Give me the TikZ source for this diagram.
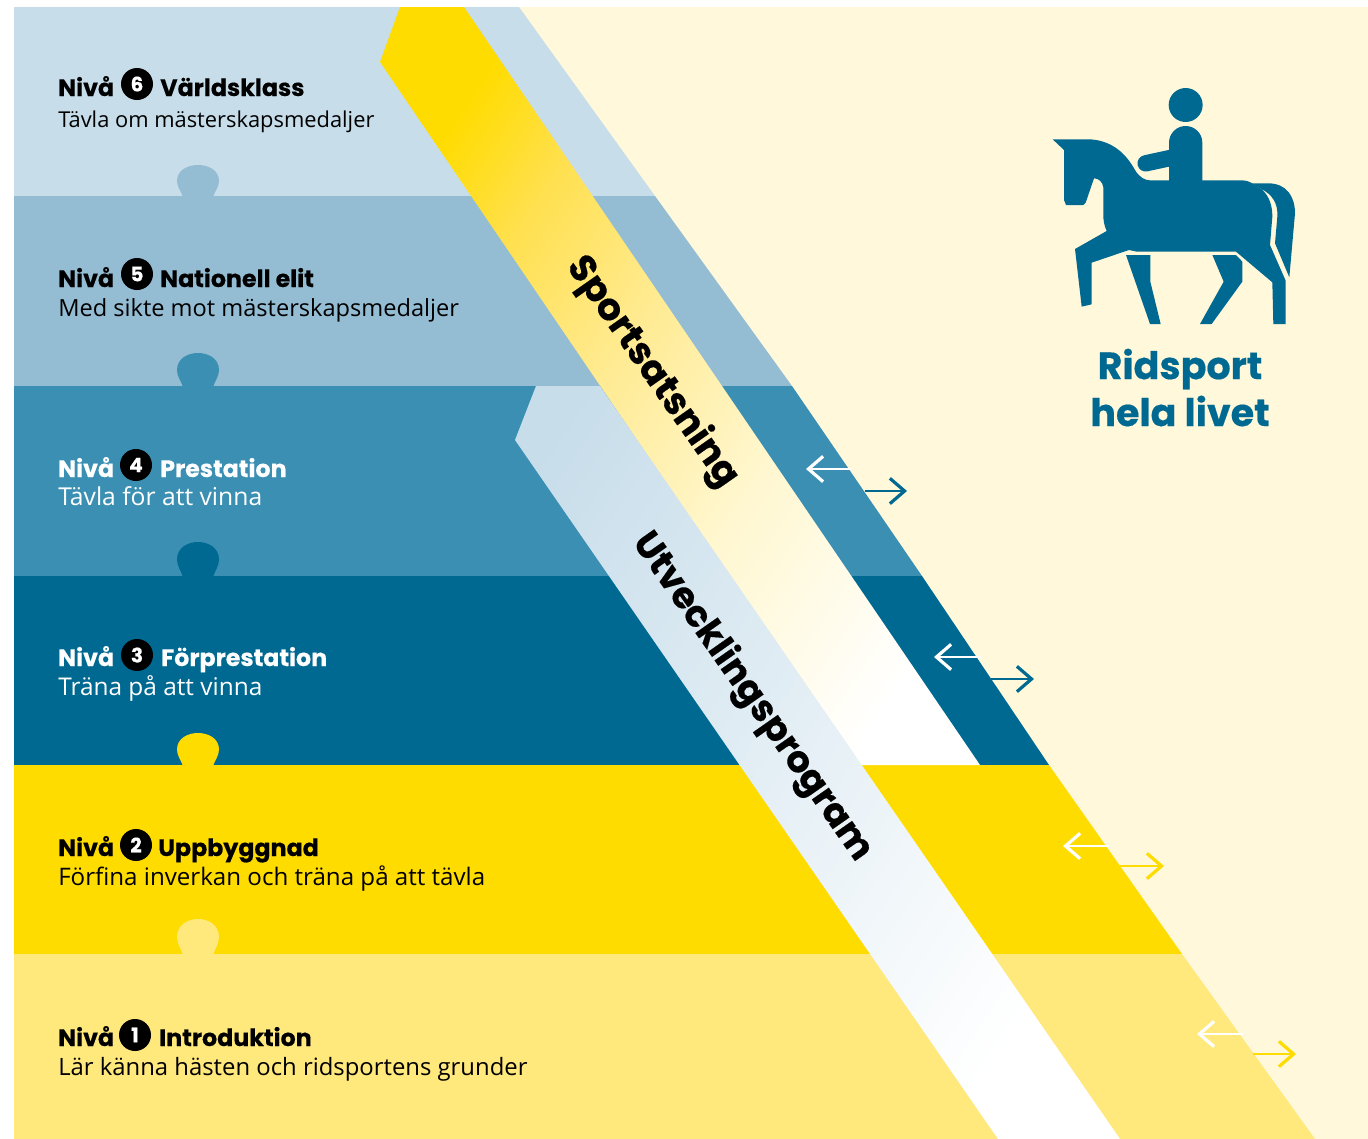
\documentclass[tikz,border=0pt]{standalone}
\usepackage{fontspec}
\usetikzlibrary{arrows.meta}
\setmainfont{Open Sans}
\newfontfamily\heavyf{Poppins}[UprightFont=*,BoldFont=* Bold,BoldFeatures={FakeBold=0.4}]
\definecolor{cream}{HTML}{FFF8DB}
\definecolor{lsix}{HTML}{C7DDEA}
\definecolor{lfive}{HTML}{94BCD3}
\definecolor{lfour}{HTML}{3A8FB3}
\definecolor{lthree}{HTML}{006991}
\definecolor{ltwo}{HTML}{FFDC00}
\definecolor{lone}{HTML}{FFE87C}
\definecolor{sa}{HTML}{FFE050}
\definecolor{sb}{HTML}{FFEB94}
\definecolor{sc}{HTML}{FFF7D0}
\pgfdeclarehorizontalshading{sportshade}{100bp}{color(0bp)=(ltwo); color(38.6bp)=(ltwo); color(41.5bp)=(sa); color(45.4bp)=(sb); color(50bp)=(sc); color(55.8bp)=(white); color(100bp)=(white)}
\pgfdeclarehorizontalshading{utvshade}{100bp}{color(0bp)=(lsix); color(45bp)=(lsix); color(63bp)=(white); color(100bp)=(white)}
\newcommand{\subsz}[1]{\fontsize{#1}{20}\selectfont}
\tikzset{
  head/.style={anchor=base west,font=\fontsize{17.8}{20}\selectfont\heavyf\bfseries,text=#1,inner sep=0pt},
  subt/.style={anchor=base west,text=#1,inner sep=0pt},
  badge/.style={circle,fill=black,text=white,minimum size=24pt,inner sep=0pt,font=\fontsize{15}{15}\selectfont\heavyf\bfseries},
  bandlabel/.style={rotate=-55,font=\fontsize{28}{30}\selectfont\heavyf\bfseries,text=black,inner sep=0pt},
  title/.style={align=center,font=\fontsize{28.5}{33}\selectfont\heavyf\bfseries,text=lthree,inner sep=0pt},
  arr/.style={line width=2pt,-{Straight Barb[length=11pt,width=19pt,line width=2.4pt]}}
}
\newcommand{\puzzletab}[3]{%
  \fill[#2,shift={(198,#1)},yscale=#3/31] (-15,1) .. controls (-17,-5) and (-21,-9) .. (-21,-15)
    .. controls (-21,-26) and (-10,-31) .. (0,-31)
    .. controls (10,-31) and (21,-26) .. (21,-15)
    .. controls (21,-9) and (17,-5) .. (15,1) -- cycle;}
\begin{document}
\begin{tikzpicture}[x=0.75pt,y=-0.75pt]
\useasboundingbox (0,0) rectangle (1368,1139);
\fill[white] (0,0) rectangle (1368,1139);
\fill[cream] (14,7) rectangle (1368,1139);
% levels
\fill[lsix] (14,7) -- (519,7) -- (655,196) -- (14,196) -- cycle;
\fill[lfive] (14,196) -- (655,196) -- (792,386) -- (14,386) -- cycle;
\fill[lfour] (14,386) -- (792,386) -- (922,576) -- (14,576) -- cycle;
\fill[lthree] (14,576) -- (922,576) -- (1049,765) -- (14,765) -- cycle;
\fill[ltwo] (14,765) -- (1049,765) -- (1182,954) -- (14,954) -- cycle;
\fill[lone] (14,954) -- (1182,954) -- (1315,1139) -- (14,1139) -- cycle;
% tabs
\puzzletab{196}{lfive}{31}
\puzzletab{386}{lfour}{33}
\puzzletab{576}{lthree}{34}
\puzzletab{765}{ltwo}{32}
\puzzletab{954}{lone}{35}
% bands
\begin{scope}
  \clip (400,7) -- (464,7) -- (980,765) -- (858,765) -- (380,62) -- cycle;
  \shade[shading=sportshade,shading angle=-33.7] (-300,-430) rectangle (1700,1570);
\end{scope}
\begin{scope}
  \clip (536,386) -- (600,386) -- (1120,1139) -- (998,1139) -- (515,440) -- cycle;
  \shade[shading=utvshade,shading angle=-33.7] (-300,-430) rectangle (1700,1570);
\end{scope}
% band labels
\node[bandlabel] (sport) at (652,372) {Sportsatsning};
\node[bandlabel,font=\fontsize{27.5}{30}\selectfont\heavyf\bfseries] (utv) at (752,697) {Utvecklingsprogram};
% level text
\node[head=black] (n6) at (58,96) {Nivå};
\node[badge] (b6) at (137,84) {6};
\node[head=black] (h6) at (160,96) {Världsklass};
\node[subt=black,font=\subsz{16.4}] (s6) at (58,127) {Tävla om mästerskapsmedaljer};
\node[head=black] (n5) at (58,287) {Nivå};
\node[badge] (b5) at (137,274) {5};
\node[head=black] (h5) at (160,287) {Nationell elit};
\node[subt=black,font=\subsz{17.7}] (s5) at (58,316) {Med sikte mot mästerskapsmedaljer};
\node[head=white] (n4) at (58,477) {Nivå};
\node[badge] (b4) at (136,465) {4};
\node[head=white] (h4) at (160,477) {Prestation};
\node[subt=white,font=\subsz{18.5}] (s4) at (58,505) {Tävla för att vinna};
\node[head=white] (n3) at (58,666) {Nivå};
\node[badge] (b3) at (137,655) {3};
\node[head=white] (h3) at (161,666) {Förprestation};
\node[subt=white,font=\subsz{18.3}] (s3) at (58,695) {Träna på att vinna};
\node[head=black] (n2) at (58,856) {Nivå};
\node[badge] (b2) at (136,845) {2};
\node[head=black] (h2) at (158,856) {Uppbyggnad};
\node[subt=black,font=\subsz{18.1}] (s2) at (58,885) {Förfina inverkan och träna på att tävla};
\node[head=black] (n1) at (58,1046) {Nivå};
\node[badge] (b1) at (135,1035) {1};
\node[head=black] (h1) at (159,1046) {Introduktion};
\node[subt=black,font=\subsz{17.9}] (s1) at (58,1075) {Lär känna hästen och ridsportens grunder};
% arrows
\coordinate (a4a) at (851,469); \coordinate (a4b) at (806,469);
\coordinate (a4c) at (865,491); \coordinate (a4d) at (907,491);
\coordinate (a3a) at (981,657); \coordinate (a3b) at (934,657);
\coordinate (a3c) at (991,679); \coordinate (a3d) at (1034,679);
\coordinate (a2a) at (1109,846); \coordinate (a2b) at (1063,846);
\coordinate (a2c) at (1120,866); \coordinate (a2d) at (1164,866);
\coordinate (a1a) at (1243,1034); \coordinate (a1b) at (1197,1034);
\coordinate (a1c) at (1253,1054); \coordinate (a1d) at (1296,1054);
\draw[arr,white] (a4a) -- (a4b);
\draw[arr,lthree] (a4c) -- (a4d);
\draw[arr,white] (a3a) -- (a3b);
\draw[arr,lthree] (a3c) -- (a3d);
\draw[arr,white] (a2a) -- (a2b);
\draw[arr,ltwo] (a2c) -- (a2d);
\draw[arr,white] (a1a) -- (a1b);
\draw[arr,ltwo] (a1c) -- (a1d);
% rider and horse
\begin{scope}[shift={(1030,70)},scale=1/3]
  \fill[lthree] (467,105) circle (51);
  \fill[lthree] (417,335) -- (417,218) arc (180:360:50) -- (517,335) -- cycle;
  \draw[lthree,line width=12.3pt,line cap=round] (347,280) -- (430,262);
  \fill[lthree] (68,208) -- (180,208) .. controls (250,212) and (290,255) .. (315,300)
    .. controls (328,322) and (345,331) .. (360,331) -- (635,331) .. controls (650,331) and (660,336) .. (668,341)
    -- (695,358) .. controls (720,380) and (727,410) .. (727,440) -- (720,525) -- (767,632) -- (767,762) -- (730,762) -- (727,637)
    -- (618,545) -- (320,545) -- (297,540) -- (185,578) -- (185,703) -- (155,710) -- (135,537) -- (230,483)
    .. controls (222,465) and (220,450) .. (220,435) -- (220,352) .. controls (218,335) and (205,325) .. (192,325)
    -- (167,398) -- (160,405) -- (108,405) -- (102,390) -- (102,240) -- cycle;
  \fill[lthree] (665,340) -- (715,340) .. controls (770,340) and (795,380) .. (795,430) -- (778,622) -- (735,520)
    -- (742,440) .. controls (745,400) and (725,372) .. (695,358) -- cycle;
  \fill[lthree] (288,555) -- (361,555) -- (361,635) -- (392,762) -- (360,762) -- cycle;
  \fill[lthree] (547,555) -- (618,555) -- (637,575) -- (637,635) -- (545,762) -- (510,762) -- (581,635) -- cycle;
\end{scope}
\node[title] (t1) at (1180,369) {Ridsport};
\node[title] (t2) at (1180,411) {hela livet};
\end{tikzpicture}
\end{document}
